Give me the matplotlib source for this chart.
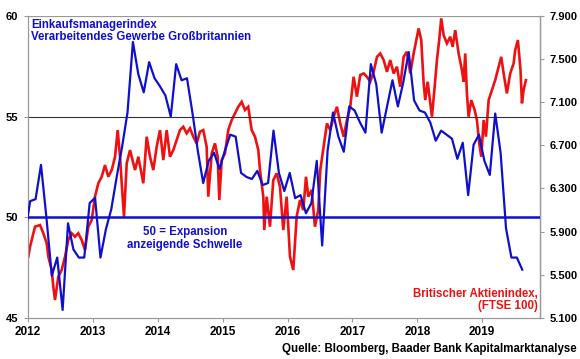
import numpy as np
import matplotlib
matplotlib.use("Agg")
import matplotlib.pyplot as plt

plt.rcParams['font.family'] = ['Liberation Sans', 'DejaVu Sans']

# UK manufacturing PMI, monthly, Dec 2011 .. Aug 2019
pmi_start_year = 2011
pmi_start_month = 11  # December (0-based)
pmi = [49.1,
       50.8, 50.9, 52.6, 50.0, 47.1, 48.0, 45.4, 49.7, 48.4, 48.0, 48.0, 50.7,
       50.97, 48.0, 49.4, 50.4, 52.0, 53.5, 55.2, 58.7, 57.1, 56.2, 57.7, 56.9,
       56.5, 56.05, 55.0, 57.6, 56.8, 56.9, 55.2, 53.3, 51.7, 52.8, 53.2, 52.4,
       53.3, 54.1, 54.0, 52.2, 52.0, 51.9, 52.3, 51.6, 51.7, 54.3, 52.2, 51.3,
       52.2, 50.95, 51.1, 50.2, 50.7, 52.8, 48.6, 53.3, 55.2, 54.0, 53.25, 55.5,
       55.3, 54.7, 54.2, 57.6, 56.6, 54.2, 55.5, 56.8, 55.5, 56.7, 58.2, 55.8,
       55.3, 55.2, 54.7, 53.8, 54.3, 54.1, 53.9, 52.9, 53.7, 51.1, 53.6, 54.1,
       52.8, 52.1, 55.15, 53.2, 49.45, 48.0, 48.0, 47.4]

# FTSE 100 (decimal years since 2012, index level)
ftse_t = [0.005, 0.031, 0.108, 0.185, 0.236, 0.288, 0.313, 0.365, 0.390, 0.416,
          0.467, 0.519, 0.570, 0.621, 0.673, 0.724, 0.775, 0.827, 0.878, 0.929,
          0.982, 1.032, 1.083, 1.136, 1.186, 1.237, 1.290, 1.341, 1.382, 1.418,
          1.444, 1.479, 1.521, 1.572, 1.598, 1.649, 1.700, 1.777, 1.829, 1.880,
          1.931, 1.983, 2.034, 2.085, 2.137, 2.188, 2.239, 2.291, 2.342, 2.393,
          2.445, 2.496, 2.547, 2.599, 2.650, 2.701, 2.753, 2.778, 2.831, 2.881,
          2.923, 2.948, 2.985, 3.035, 3.086, 3.139, 3.190, 3.240, 3.293, 3.344,
          3.394, 3.447, 3.498, 3.549, 3.575, 3.626, 3.641, 3.678, 3.729, 3.780,
          3.832, 3.883, 3.934, 3.986, 4.037, 4.088, 4.140, 4.191, 4.242, 4.284,
          4.319, 4.371, 4.422, 4.473, 4.504, 4.556, 4.607, 4.658, 4.710, 4.761,
          4.812, 4.864, 4.915, 4.966, 5.018, 5.069, 5.120, 5.173, 5.223, 5.274,
          5.327, 5.378, 5.428, 5.481, 5.532, 5.582, 5.635, 5.686, 5.736, 5.789,
          5.840, 5.891, 5.943, 5.994, 6.020, 6.060, 6.097, 6.122, 6.159, 6.199,
          6.225, 6.267, 6.302, 6.337, 6.368, 6.405, 6.456, 6.507, 6.544, 6.584,
          6.636, 6.687, 6.713, 6.738, 6.764, 6.790, 6.831, 6.883, 6.918, 6.954,
          6.985, 7.022, 7.057, 7.099, 7.149, 7.200, 7.253, 7.293, 7.330, 7.380,
          7.431, 7.484, 7.508, 7.550, 7.590, 7.612, 7.638, 7.673]
ftse_v = [5668, 5760, 5946, 5961, 5885, 5792, 5668, 5545, 5390, 5267,
          5483, 5545, 5668, 5823, 5885, 5853, 5885, 5823, 5730, 5946,
          6008, 6224, 6348, 6409, 6517, 6409, 6471, 6594, 6841, 6594,
          6348, 6038, 6533, 6656, 6594, 6471, 6594, 6348, 6780, 6594,
          6471, 6687, 6841, 6563, 6841, 6594, 6656, 6750, 6841, 6872,
          6811, 6857, 6780, 6718, 6826, 6841, 6687, 6224, 6625, 6718,
          6594, 6193, 6563, 6625, 6841, 6934, 6996, 7057, 7103, 7027,
          7057, 6841, 6780, 6656, 6471, 6224, 5915, 6224, 5946, 6378,
          6440, 6316, 5915, 6224, 5668, 5545, 6038, 6193, 6100, 6409,
          6224, 6286, 5946, 6100, 6471, 6687, 6903, 6841, 6965, 7057,
          6903, 6780, 6934, 7057, 7335, 7150, 7351, 7366, 7335, 7289,
          7381, 7520, 7551, 7490, 7381, 7490, 7366, 7428, 7242, 7520,
          7567, 7366, 7551, 7706, 7783, 7675, 7274, 7119, 7289, 7089,
          6965, 7242, 7490, 7675, 7876, 7721, 7644, 7706, 7613, 7767,
          7551, 7397, 7289, 7551, 7181, 6965, 7119, 7027, 6934, 6718,
          6594, 6934, 6780, 7119, 7212, 7304, 7428, 7520, 7366, 7181,
          7366, 7459, 7582, 7675, 7397, 7089, 7212, 7304]

years = [2012, 2013, 2014, 2015, 2016, 2017, 2018, 2019]
left_ticks = [45, 50, 55, 60]
right_ticks = [5100, 5500, 5900, 6300, 6700, 7100, 7500, 7900]

BLUE = '#1010CC'
RED = '#EE1111'
GRAY = '#9A9A9A'

pmi_x = np.array([pmi_start_year + (pmi_start_month + i + 0.4) / 12 for i in range(len(pmi))])
ftse_x = 2012 + np.array(ftse_t)

fig = plt.figure(figsize=(5.8, 3.59), dpi=100)
ax = fig.add_axes([0.0483, 0.1142, 0.8827, 0.8418])
ax2 = ax.twinx()

ax2.plot(ftse_x, ftse_v, color=RED, lw=1.9, solid_joinstyle='miter', zorder=3)
ax2.set_ylim(5100, 7900)
ax2.set_yticks(right_ticks)
ax2.set_yticklabels([f"{v/1000:.3f}" for v in right_ticks])

ax.set_zorder(ax2.get_zorder() + 1)
ax.patch.set_visible(False)
ax.plot(pmi_x, pmi, color=BLUE, lw=1.6, zorder=4, clip_on=True)
ax.axhline(50, color=BLUE, lw=1.8, zorder=3)
ax.axhline(55, color='#333333', lw=0.8, zorder=1)
ax.axhline(60, color=GRAY, lw=0.9, zorder=1)
ax.set_ylim(45, 60)
ax.set_yticks(left_ticks)
ax.set_xlim(2012, 2019.89)
ax.set_xticks(years)
ax.set_xticklabels([str(y) for y in years])

for a in (ax, ax2):
    a.spines['top'].set_visible(False)
    for s in ('left', 'right', 'bottom'):
        a.spines[s].set_color(GRAY)
        a.spines[s].set_linewidth(0.9)
    a.tick_params(axis='both', colors='black', length=3, width=0.8, color=GRAY)
ax.tick_params(axis='x', labelsize=8.5, pad=3)
ax.tick_params(axis='y', labelsize=8, pad=4)
ax2.tick_params(axis='y', labelsize=8, pad=4)
for a in (ax, ax2):
    for lab in a.get_xticklabels() + a.get_yticklabels():
        lab.set_fontweight('bold')
ax2.spines['left'].set_visible(False)
ax2.spines['bottom'].set_visible(False)

ax.text(0.006, 0.99, "Einkaufsmanagerindex\nVerarbeitendes Gewerbe Großbritannien",
        transform=ax.transAxes, ha='left', va='top', color=BLUE, fontsize=8.3,
        fontweight='bold', linespacing=1.0)
ax.text(2014.42, 49.55, "50 = Expansion\nanzeigende Schwelle", ha='center', va='top',
        color=BLUE, fontsize=8.3, fontweight='bold', linespacing=1.05)
ax.text(0.995, 0.1, "Britischer Aktienindex,\n(FTSE 100)", transform=ax.transAxes,
        ha='right', va='top', color=RED, fontsize=8.3, fontweight='bold',
        linespacing=1.05)
fig.text(0.995, 0.012, "Quelle: Bloomberg, Baader Bank Kapitalmarktanalyse",
         ha='right', va='bottom', fontsize=8.3, fontweight='bold')

fig.savefig("out.png", dpi=100)
